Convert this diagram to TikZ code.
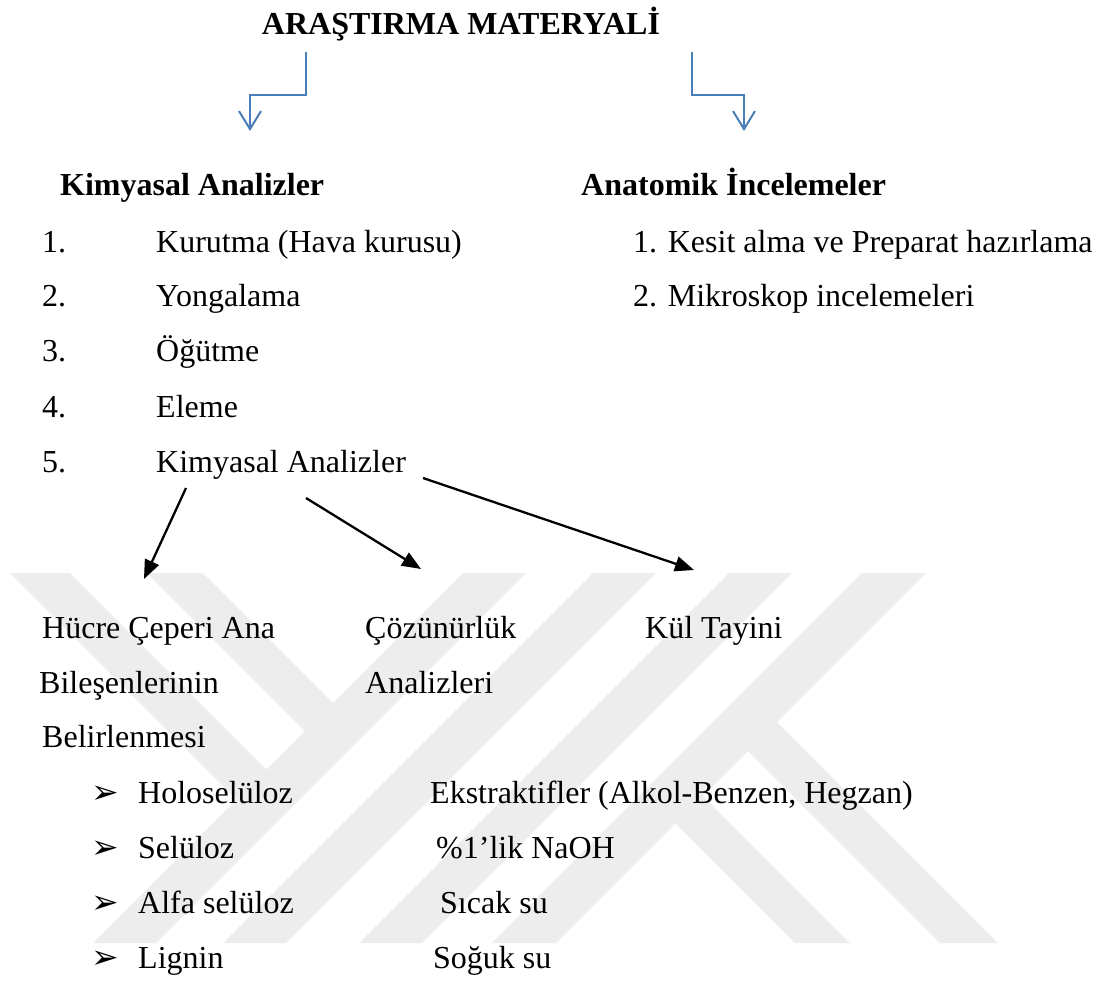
\documentclass[tikz,border=0pt]{standalone}
\usepackage{fontspec}
\setmainfont{Liberation Serif}
\newfontfamily\dejavu{DejaVu Sans}
\usetikzlibrary{arrows.meta}
\definecolor{wmgray}{RGB}{237,237,237}
\definecolor{lineblue}{RGB}{74,126,187}
\tikzset{
  txt/.style={anchor=base west, inner sep=0pt, font=\fontsize{32}{38}\selectfont},
  hd/.style={anchor=base west, inner sep=0pt, font=\fontsize{32}{38}\selectfont\bfseries},
  bul/.style={anchor=base west, inner sep=0pt, font=\dejavu\fontsize{33}{38}\selectfont},
  band/.style={fill=wmgray, draw=none},
  blueconn/.style={draw=lineblue, line width=2pt, -{Straight Barb[length=18pt,width=22pt]}},
  blackconn/.style={draw=black, line width=2.3pt, -{Triangle[length=19pt,width=15pt]}}
}
\begin{document}
\begin{tikzpicture}[x=1pt,y=-1pt]
\useasboundingbox (0,0) rectangle (1094,980);
% watermark
\begin{scope}
\clip (0,573) rectangle (1094,943);
\fill[band] (463,573) -- (526,573) -- (156,943) -- (93,943) -- cycle;
\fill[band] (593,573) -- (656,573) -- (286,943) -- (223,943) -- cycle;
\fill[band] (729,573) -- (792,573) -- (422,943) -- (359,943) -- cycle;
\fill[band] (862,573) -- (926,573) -- (556,943) -- (492,943) -- cycle;
\fill[band] (10,573) -- (70,573) -- (282,785) -- (252,815) -- cycle;
\fill[band] (147,573) -- (203,573) -- (349,719) -- (321,747) -- cycle;
\fill[band] (795,943) -- (850,943) -- (687,780) -- (659.5,807.5) -- cycle;
\fill[band] (940,943) -- (998,943) -- (761,706) -- (732,735) -- cycle;
\end{scope}
% title and headings
\node[hd, anchor=base] (title) at (461,34) {ARAŞTIRMA MATERYALİ};
\node[hd] (kim) at (60,195) {Kimyasal Analizler};
\node[hd] (ana) at (581,195) {Anatomik İncelemeler};
% left list
\node[txt] (n1) at (42,252) {1.};
\node[txt] (k1) at (156,252) {Kurutma (Hava kurusu)};
\node[txt] (n2) at (42,306) {2.};
\node[txt] (k2) at (156,306) {Yongalama};
\node[txt] (n3) at (42,361) {3.};
\node[txt] (k3) at (156,361) {Öğütme};
\node[txt] (n4) at (42,417) {4.};
\node[txt] (k4) at (156,417) {Eleme};
\node[txt] (n5) at (42,472) {5.};
\node[txt] (k5) at (156,472) {Kimyasal Analizler};
% right list
\node[txt] (a1) at (633,252) {1. Kesit alma ve Preparat hazırlama};
\node[txt] (a2) at (633,306) {2. Mikroskop incelemeleri};
% lower groups
\node[txt] (h1) at (42,638) {Hücre Çeperi Ana};
\node[txt] (h2) at (39,693) {Bileşenlerinin};
\node[txt] (h3) at (42,747) {Belirlenmesi};
\node[txt] (c1) at (365,638) {Çözünürlük};
\node[txt] (c2) at (365,693) {Analizleri};
\node[txt] (kul) at (645,638) {Kül Tayini};
% bullet lists
\node[bul] (b1) at (91,803) {➢};
\node[txt] (l1) at (138,803) {Holoselüloz};
\node[bul] (b2) at (91,858) {➢};
\node[txt] (l2) at (138,858) {Selüloz};
\node[bul] (b3) at (91,913) {➢};
\node[txt] (l3) at (138,913) {Alfa selüloz};
\node[bul] (b4) at (91,968) {➢};
\node[txt] (l4) at (138,968) {Lignin};
\node[txt] (r1) at (430,803) {Ekstraktifler (Alkol-Benzen, Hegzan)};
\node[txt] (r2) at (436,858) {\%1’lik NaOH};
\node[txt] (r3) at (440,913) {Sıcak su};
\node[txt] (r4) at (433,968) {Soğuk su};
% blue connectors
\coordinate (bl0) at (306,52);
\coordinate (bl1) at (250,131);
\coordinate (br0) at (692,52);
\coordinate (br1) at (744,131);
\draw[blueconn] (bl0) -- ++(0,43) -| (bl1);
\draw[blueconn] (br0) -- ++(0,43) -| (br1);
% black arrows
\coordinate (s1) at (186,488); \coordinate (e1) at (144,579);
\coordinate (s2) at (306,498); \coordinate (e2) at (421,569);
\coordinate (s3) at (423,478); \coordinate (e3) at (694,570);
\draw[blackconn] (s1) -- (e1);
\draw[blackconn] (s2) -- (e2);
\draw[blackconn] (s3) -- (e3);
\end{tikzpicture}
\end{document}
